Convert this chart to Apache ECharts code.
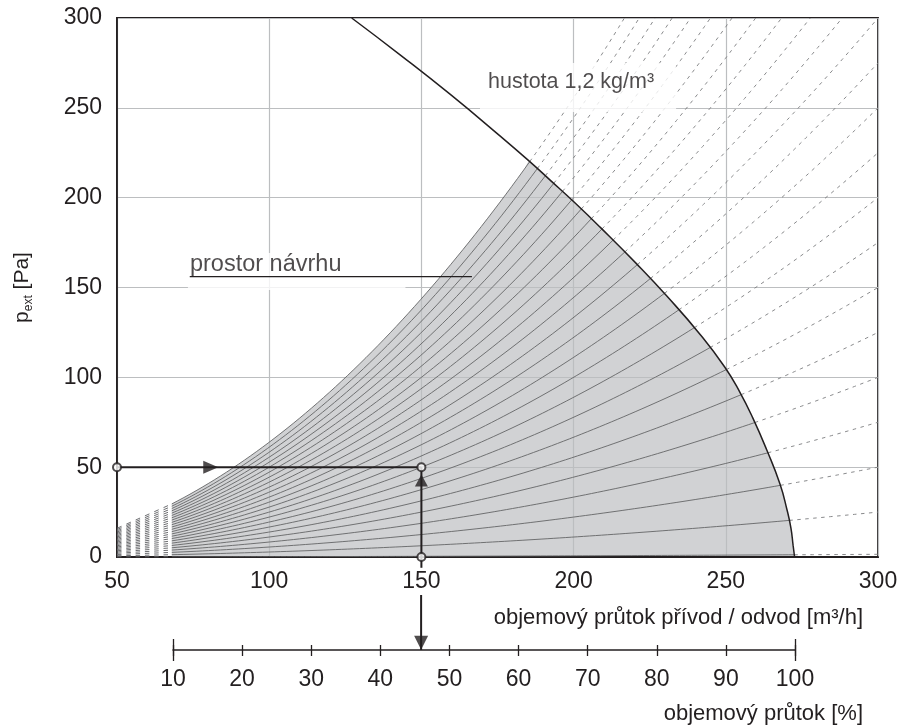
<!DOCTYPE html>
<html>
<head>
<meta charset="utf-8">
<title>Prostor návrhu</title>
<script src="https://cdn.jsdelivr.net/npm/echarts@6/dist/echarts.min.js"></script>
<style>
  html, body { margin: 0; padding: 0; background: #fff; }
  #chart { width: 901px; height: 726px; }
</style>
</head>
<body>
<div id="chart"></div>
<script>
// osy
const flowMin = 50, flowMax = 300;          // objemový průtok [m³/h]
const pressureMin = 0, pressureMax = 300;   // p_ext [Pa]
const percentMin = 10, percentMax = 100;    // objemový průtok [%]

// charakteristiky sítě: tlak, kterého každá dosáhne při 300 m³/h
const curveEndPressure = [1.5, 25, 50, 75, 100, 125, 150, 175, 200, 225, 250, 275,
  300, 325, 350, 375, 400, 425, 450, 475, 500, 525, 550, 575];

// křivka ventilátoru, hustota 1,2 kg/m³
const fanFlow = [127.1, 143, 159.4, 175.8, 185.7, 192.2, 200.5, 208.7, 220.8, 230.7,
  241.5, 249.7, 254.6, 258.9, 263.5, 267.8, 270.1, 271.4, 272.1, 272.6];
const fanPressure = [300, 279.5, 257.6, 234.4, 219.9, 209.9, 197, 183.6, 163.0, 145.1,
  124.0, 105.6, 91.8, 77.3, 59.4, 40.6, 26.3, 16.1, 6.6, 0];

const designFlowMin = 68;       // začátek prostoru návrhu
const workFlow = 150;           // příklad odečtu
const workPressure = 50;
const workPercent = 45.9;

const font = '"Liberation Sans", Arial, Helvetica, sans-serif';
const ink = '#231f20';

// velikost grafu v px (pro sladění čárkování do sloupců)
const plotW = 901 - 117 - 23, plotH = 726 - 18 - 169;

// tlak na polygonu křivky ventilátoru
function fanAt(q) {
  for (let j = 0; j < fanFlow.length - 1; j++) {
    if (q >= fanFlow[j] && q <= fanFlow[j + 1]) {
      const t = (q - fanFlow[j]) / (fanFlow[j + 1] - fanFlow[j]);
      return fanPressure[j] + t * (fanPressure[j + 1] - fanPressure[j]);
    }
  }
  return q < fanFlow[0] ? Infinity : -Infinity;
}

// průsečík charakteristiky p = k·q² s křivkou ventilátoru
function meetFan(k) {
  let lo = fanFlow[0], hi = fanFlow[fanFlow.length - 1];
  for (let n = 0; n < 60; n++) {
    const mid = (lo + hi) / 2;
    if (k * mid * mid < fanAt(mid)) lo = mid; else hi = mid;
  }
  return lo;
}

function curvePoints(k, q0, q1) {
  const pts = [];
  const n = Math.max(2, Math.ceil((q1 - q0) / 2));
  for (let j = 0; j <= n; j++) {
    const q = q0 + (q1 - q0) * j / n;
    pts.push([q, k * q * q]);
  }
  return pts;
}

const series = [];
let topK = 0, topMeet = 0;

curveEndPressure.forEach(function (pEnd) {
  const k = pEnd / (flowMax * flowMax);
  const meet = meetFan(k);
  const qEnd = Math.min(flowMax, Math.sqrt(pressureMax / k));
  topK = k; topMeet = meet;
  // před prostorem návrhu: čárky roztažené tak, aby tvořily svislé sloupce
  const p0 = k * flowMin * flowMin, p1 = k * designFlowMin * designFlowMin;
  const dx = (designFlowMin - flowMin) * plotW / (flowMax - flowMin);
  const dy = (p1 - p0) * plotH / (pressureMax - pressureMin);
  const stretch = Math.sqrt(dx * dx + dy * dy) / dx;
  series.push({
    type: 'line', silent: true, symbol: 'none', z: 3,
    data: [[flowMin, p0], [designFlowMin, p1]],
    lineStyle: { color: '#6d6e71', width: 1, type: [4.5 * stretch, 4.8 * stretch] }
  });
  // uvnitř prostoru návrhu
  series.push({
    type: 'line', silent: true, symbol: 'none', z: 3,
    data: curvePoints(k, designFlowMin, meet),
    lineStyle: { color: '#646567', width: 0.9 }
  });
  // za křivkou ventilátoru
  series.push({
    type: 'line', silent: true, symbol: 'none', z: 3,
    data: curvePoints(k, meet, qEnd),
    lineStyle: { color: '#7c7d7f', width: 0.9, type: [3.5, 4.5] }
  });
});

// šedá plocha
const areaData = curvePoints(topK, designFlowMin, topMeet);
fanFlow.forEach(function (q, j) {
  if (q > topMeet) areaData.push([q, fanPressure[j]]);
});
series.push({
  type: 'line', silent: true, symbol: 'none', z: -1, smooth: 0.5,
  data: areaData,
  lineStyle: { width: 0 },
  areaStyle: { color: '#d1d2d4', opacity: 1 }
});

// křivka ventilátoru
series.push({
  type: 'line', silent: true, symbol: 'none', z: 5, smooth: 0.5,
  data: fanFlow.map(function (q, j) { return [q, fanPressure[j]]; }),
  lineStyle: { color: ink, width: 1.5 }
});

// popisky
series.push({
  type: 'scatter', silent: true, symbolSize: 0, z: 10,
  data: [[169.25, 274.9]],
  label: {
    show: true, position: [0, 0], align: 'left', verticalAlign: 'top',
    formatter: 'hustota 1,2 kg/m³', backgroundColor: '#fff',
    padding: [8, 22, 20, 8], fontSize: 21.5, lineHeight: 21, color: ink, fontFamily: font
  }
});
series.push({
  type: 'scatter', silent: true, symbolSize: 0, z: 10,
  data: [[73.3, 169.2]],
  label: {
    show: true, position: [0, 0], align: 'left', verticalAlign: 'top',
    formatter: 'prostor návrhu', backgroundColor: '#fff',
    padding: [0, 64, 14, 2], fontSize: 23.5, lineHeight: 23, color: ink, fontFamily: font
  }
});
series.push({
  type: 'line', silent: true, symbol: 'none', z: 11,
  data: [[73.9, 156], [166.6, 156]],
  lineStyle: { color: ink, width: 1.2 }
});

// odečet pracovního bodu
series.push({
  type: 'line', silent: true, symbol: 'none', z: 12,
  data: [[flowMin, workPressure], [workFlow, workPressure]],
  lineStyle: { color: ink, width: 2 }
});
series.push({
  type: 'line', silent: true, symbol: 'none', z: 12, clip: false,
  data: [[workFlow, -6], [workFlow, workPressure]],
  lineStyle: { color: ink, width: 2 }
});
series.push({
  type: 'scatter', silent: true, z: 13, symbol: 'triangle',
  symbolSize: [13, 15], symbolRotate: -90,
  data: [[80.8, workPressure]],
  itemStyle: { color: ink }
});
series.push({
  type: 'scatter', silent: true, z: 13, symbol: 'triangle',
  symbolSize: [13, 12],
  data: [[workFlow, 42.6]],
  itemStyle: { color: ink }
});
series.push({
  type: 'scatter', silent: true, z: 14, symbol: 'circle', symbolSize: 8, clip: false,
  data: [[flowMin, workPressure], [workFlow, workPressure], [workFlow, 0]],
  itemStyle: { color: '#fff', borderColor: ink, borderWidth: 2 }
});
// šipka dolů na procentní stupnici
series.push({
  type: 'line', silent: true, symbol: 'none', xAxisIndex: 1, yAxisIndex: 1,
  data: [[workPercent, 1], [workPercent, 0]],
  lineStyle: { color: ink, width: 2 }
});
series.push({
  type: 'scatter', silent: true, symbol: 'triangle', symbolSize: [14, 14], symbolRotate: 180,
  xAxisIndex: 1, yAxisIndex: 1,
  data: [[workPercent, 0.13]],
  itemStyle: { color: ink }
});

const labelStyle = { color: ink, fontSize: 23, fontFamily: font };
const tickAxis = function (inside, len, custom) {
  return {
    type: 'value', gridIndex: 1, position: 'bottom',
    min: percentMin, max: percentMax, interval: 10,
    axisLine: { show: false }, axisLabel: { show: false }, splitLine: { show: false },
    axisTick: { show: true, inside: inside, length: len, customValues: custom,
      lineStyle: { color: ink, width: 1.3 } }
  };
};

const chart = echarts.init(document.getElementById('chart'), null, { renderer: 'canvas' });
chart.setOption({
  animation: false,
  backgroundColor: '#fff',
  textStyle: { fontFamily: font },
  grid: [
    { left: 117, right: 23, top: 18, bottom: 169, show: true,
      borderColor: ink, borderWidth: 1.8, backgroundColor: 'transparent' },
    { left: 173, right: 106, top: 595, bottom: 76 }
  ],
  xAxis: [
    {
      type: 'value', gridIndex: 0, min: flowMin, max: flowMax, interval: 50,
      name: 'objemový průtok přívod / odvod [m³/h]', nameLocation: 'end', nameGap: -15,
      nameTextStyle: { color: ink, fontSize: 22, fontFamily: font, align: 'right',
        verticalAlign: 'top', padding: [50, 0, 0, 0] },
      axisLine: { show: true, lineStyle: { color: ink, width: 1.8 } },
      axisTick: { show: false },
      axisLabel: Object.assign({ margin: 13 }, labelStyle),
      splitLine: { show: true, lineStyle: { color: '#bcbec0', width: 1.2 } }
    },
    {
      type: 'value', gridIndex: 1, position: 'bottom',
      min: percentMin, max: percentMax, interval: 10,
      name: 'objemový průtok [%]', nameLocation: 'end', nameGap: 68,
      nameTextStyle: { color: ink, fontSize: 22, fontFamily: font, align: 'right',
        verticalAlign: 'top', padding: [53, 0, 0, 0] },
      axisLine: { show: true, lineStyle: { color: ink, width: 1.5 } },
      axisTick: { show: true, inside: false, length: 6, lineStyle: { color: ink, width: 1.3 } },
      axisLabel: Object.assign({ margin: 18 }, labelStyle),
      splitLine: { show: false }
    },
    tickAxis(true, 5),
    tickAxis(true, 11, [percentMin, percentMax]),
    tickAxis(false, 11, [percentMin, percentMax])
  ],
  yAxis: [
    {
      type: 'value', gridIndex: 0, min: pressureMin, max: pressureMax, interval: 50,
      name: '{p|p}{s|ext}{p| [Pa]}', nameLocation: 'middle', nameGap: 82, nameRotate: 90,
      nameTextStyle: { rich: {
        p: { fontSize: 21, lineHeight: 26, color: ink, fontFamily: font },
        s: { fontSize: 12, lineHeight: 12, verticalAlign: 'bottom', color: ink, fontFamily: font }
      } },
      axisLine: { show: true, lineStyle: { color: ink, width: 1.8 } },
      axisTick: { show: false },
      axisLabel: Object.assign({ margin: 15 }, labelStyle),
      splitLine: { show: true, lineStyle: { color: '#bcbec0', width: 1.2 } }
    },
    { type: 'value', gridIndex: 1, min: 0, max: 1, show: false }
  ],
  series: series
});
</script>
</body>
</html>
